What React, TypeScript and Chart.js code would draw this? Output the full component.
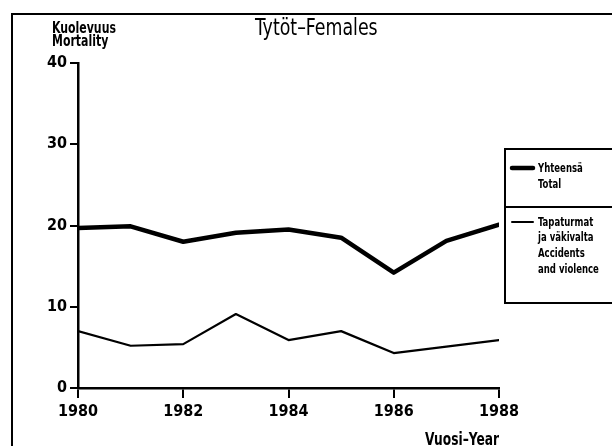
import React, { useEffect, useRef } from "react";
import { Chart, registerables } from "chart.js";

Chart.register(...registerables);

const years = [1980, 1981, 1982, 1983, 1984, 1985, 1986, 1987, 1988];
const totalValues = [19.7, 19.9, 18.0, 19.1, 19.5, 18.5, 14.2, 18.1, 20.1];
const accidentValues = [7.0, 5.2, 5.4, 9.1, 5.9, 7.0, 4.3, 5.1, 5.9];
const yTicks = [0, 10, 20, 30, 40];
const xTicks = [1980, 1982, 1984, 1986, 1988];
const titleText = "Tytöt–Females";
const yTitleLines = ["Kuolevuus", "Mortality"];
const xTitleText = "Vuosi–Year";
const totalLegendLines = ["Yhteensä", "Total"];
const accidentLegendLines = ["Tapaturmat", "ja väkivalta", "Accidents", "and violence"];

const FONT = "'DejaVu Sans Condensed', 'DejaVu Sans', sans-serif";

function narrowText(
  ctx: CanvasRenderingContext2D,
  text: string,
  x: number,
  y: number,
  sx: number,
  align: CanvasTextAlign = "left"
) {
  ctx.save();
  ctx.translate(x, y);
  ctx.scale(sx, 1);
  ctx.textAlign = align;
  ctx.textBaseline = "alphabetic";
  ctx.fillText(text, 0, 0);
  ctx.restore();
}

const decorPlugin = {
  id: "decor",
  afterDraw(chart: any) {
    const ctx = chart.ctx as CanvasRenderingContext2D;
    ctx.save();
    ctx.strokeStyle = "#000";
    ctx.fillStyle = "#000";
    // outer frame
    ctx.lineWidth = 2;
    ctx.beginPath();
    ctx.moveTo(12, 446);
    ctx.lineTo(12, 14);
    ctx.lineTo(612, 14);
    ctx.stroke();
    // title
    ctx.font = `23px ${FONT}`;
    narrowText(ctx, titleText, 255, 35, 0.84);
    // y title
    ctx.font = `bold 16px ${FONT}`;
    narrowText(ctx, yTitleLines[0], 52, 33, 0.76);
    narrowText(ctx, yTitleLines[1], 52, 46, 0.76);
    // x title
    ctx.font = `bold 17px ${FONT}`;
    narrowText(ctx, xTitleText, 499, 445, 0.8, "right");
    // legend box
    ctx.lineWidth = 2;
    ctx.beginPath();
    ctx.moveTo(620, 149);
    ctx.lineTo(505, 149);
    ctx.lineTo(505, 303);
    ctx.lineTo(620, 303);
    ctx.moveTo(505, 207);
    ctx.lineTo(620, 207);
    ctx.stroke();
    // legend samples
    ctx.lineCap = "round";
    ctx.lineWidth = 4.5;
    ctx.beginPath();
    ctx.moveTo(512, 168);
    ctx.lineTo(533, 168);
    ctx.stroke();
    ctx.lineWidth = 2;
    ctx.beginPath();
    ctx.moveTo(512, 222);
    ctx.lineTo(533, 222);
    ctx.stroke();
    // legend text
    ctx.font = `bold 12px ${FONT}`;
    const tb = [172, 188];
    totalLegendLines.forEach((t, i) => narrowText(ctx, t, 538, tb[i], 0.79));
    const ab = [226, 241, 257, 273];
    accidentLegendLines.forEach((t, i) => narrowText(ctx, t, 538, ab[i], 0.79));
    ctx.restore();
  },
};

export default function App() {
  const ref = useRef<HTMLCanvasElement>(null);
  useEffect(() => {
    if (!ref.current) return;
    const chart = new Chart(ref.current, {
      type: "line",
      data: {
        datasets: [
          {
            label: totalLegendLines.join(" "),
            data: years.map((y, i) => ({ x: y, y: totalValues[i] })),
            borderColor: "#000",
            borderWidth: 4.5,
            pointRadius: 0,
            borderCapStyle: "round",
            borderJoinStyle: "round",
            tension: 0,
          },
          {
            label: accidentLegendLines.join(" "),
            data: years.map((y, i) => ({ x: y, y: accidentValues[i] })),
            borderColor: "#000",
            borderWidth: 2.2,
            pointRadius: 0,
            borderCapStyle: "round",
            borderJoinStyle: "round",
            tension: 0,
          },
        ],
      },
      plugins: [decorPlugin],
      options: {
        animation: false,
        responsive: false,
        devicePixelRatio: 1,
        layout: { padding: { top: 63, right: 113, left: 0, bottom: 0 } },
        plugins: {
          legend: { display: false },
          title: { display: false },
          tooltip: { enabled: false },
        },
        scales: {
          x: {
            type: "linear",
            min: 1980,
            max: 1988,
            afterBuildTicks: (scale: any) => {
              scale.ticks = xTicks.map((v) => ({ value: v }));
            },
            afterFit: (scale: any) => {
              scale.height = 58;
            },
            ticks: {
              color: "#000",
              font: { family: FONT, size: 16, weight: "bold" },
              padding: 4,
              maxRotation: 0,
              autoSkip: false,
              callback: (v: any) => String(v),
            },
            grid: {
              drawOnChartArea: false,
              drawTicks: true,
              tickLength: 10,
              color: "#000",
              lineWidth: 2,
            },
            border: { display: true, color: "#000", width: 2.5 },
          },
          y: {
            type: "linear",
            min: 0,
            max: 40,
            afterBuildTicks: (scale: any) => {
              scale.ticks = yTicks.map((v) => ({ value: v }));
            },
            afterFit: (scale: any) => {
              scale.width = 78;
            },
            ticks: {
              color: "#000",
              font: { family: FONT, size: 16, weight: "bold" },
              padding: 3,
              callback: (v: any) => String(v),
            },
            grid: {
              drawOnChartArea: false,
              drawTicks: true,
              tickLength: 8,
              color: "#000",
              lineWidth: 2,
            },
            border: { display: true, color: "#000", width: 2.5 },
          },
        },
      },
    } as any);
    return () => chart.destroy();
  }, []);
  return (
    <div style={{ position: "fixed", left: 0, top: 0, width: 612, height: 446, background: "#fff" }}>
      <canvas ref={ref} width={612} height={446} style={{ display: "block" }} />
    </div>
  );
}
